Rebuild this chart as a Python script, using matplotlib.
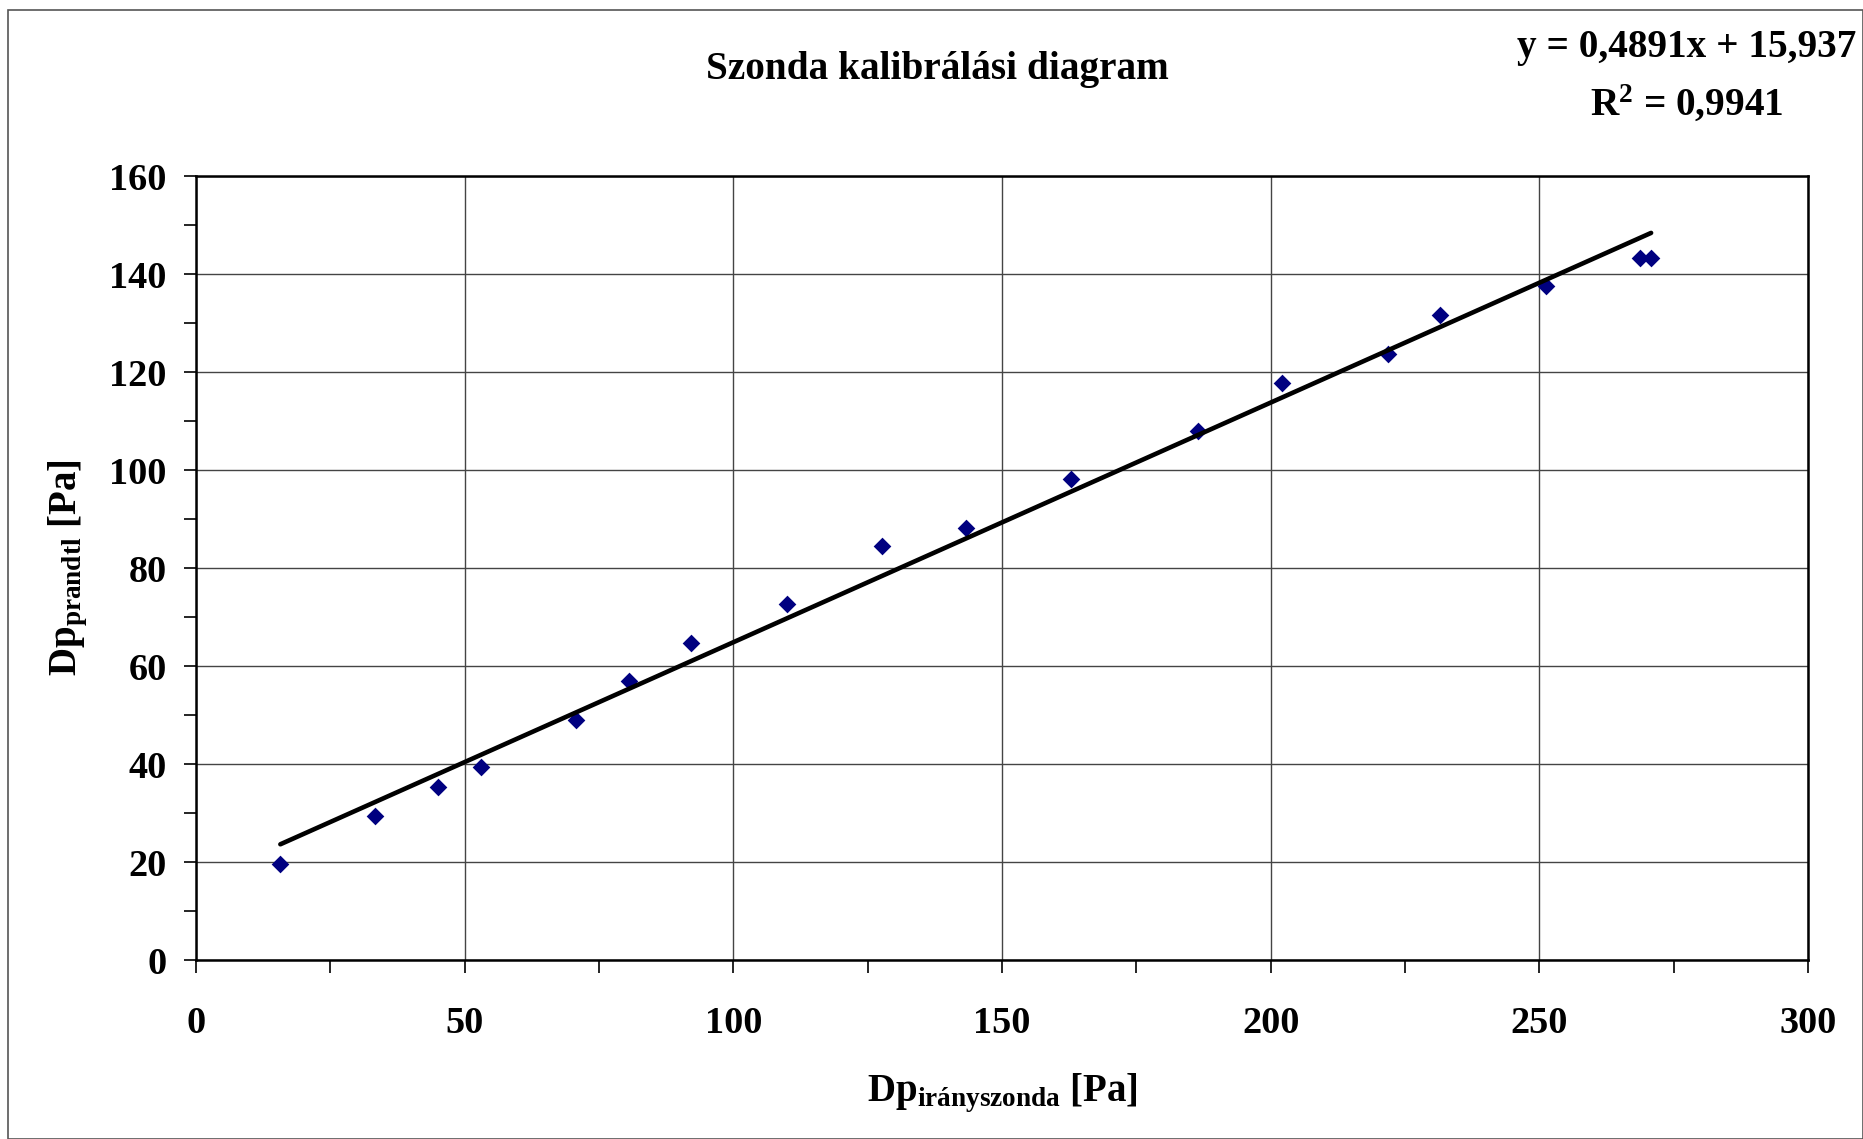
import matplotlib
matplotlib.use("Agg")
import matplotlib.pyplot as plt
from matplotlib.patches import Rectangle
from matplotlib.ticker import MultipleLocator
import numpy as np

plt.rcParams['font.family'] = ['Liberation Serif', 'DejaVu Serif']
plt.rcParams['mathtext.default'] = 'regular'

# Data
dp_iranyszonda = [15.7, 33.4, 45.1, 53.1, 70.7, 80.5, 92.2, 109.9, 127.6, 143.3,
                  162.9, 186.4, 202.1, 221.8, 231.5, 251.2, 268.8, 270.8]
dp_prandtl = [19.6, 29.3, 35.4, 39.3, 49.0, 57.0, 64.7, 72.7, 84.4, 88.2,
              98.2, 107.9, 117.8, 123.6, 131.6, 137.5, 143.3, 143.3]
slope = 0.4891
intercept = 15.937
title = "Szonda kalibrálási diagram"
eq_text = "y = 0,4891x + 15,937"
r2_text = "R$^{2}$ = 0,9941"
x_ticks = [0, 50, 100, 150, 200, 250, 300]
y_ticks = [0, 20, 40, 60, 80, 100, 120, 140, 160]

W, H = 1863, 1139
fig = plt.figure(figsize=(W / 100, H / 100), dpi=100)
fig.patch.set_facecolor('white')
ax = fig.add_axes([196 / W, 1 - 960 / H, (1808 - 196) / W, (960 - 176) / H])

ax.scatter(dp_iranyszonda, dp_prandtl, marker='D', s=9 ** 2, color='#000080',
           zorder=3, linewidths=0)
xs = np.array([min(dp_iranyszonda), max(dp_iranyszonda)])
ax.plot(xs, slope * xs + intercept, color='black', lw=3.3, solid_capstyle='round', zorder=4)

ax.set_xlim(0, 300)
ax.set_ylim(0, 160)
ax.set_xticks(x_ticks)
ax.set_yticks(y_ticks)
ax.xaxis.set_minor_locator(MultipleLocator(25))
ax.yaxis.set_minor_locator(MultipleLocator(10))
ax.grid(True, which='major', color='#444444', lw=1.0, zorder=1)
for s in ax.spines.values():
    s.set_linewidth(1.8)
    s.set_color('black')
ax.tick_params(which='both', direction='out', length=9, width=1.2, colors='black')
ax.tick_params(axis='x', which='major', pad=24, labelsize=27.5)
ax.tick_params(axis='y', which='major', pad=12, labelsize=27.5)
for lab in ax.get_xticklabels() + ax.get_yticklabels():
    lab.set_fontweight('bold')

ax.set_xlabel(r"Dp$_{\mathregular{irányszonda}}$ [Pa]", fontsize=28, fontweight='bold', labelpad=22)
ax.set_ylabel(r"Dp$_{\mathregular{prandtl}}$ [Pa]", fontsize=28, fontweight='bold', labelpad=14)

fig.text(937 / W, 1 - 69 / H, title, ha='center', va='center', fontsize=28.3, fontweight='bold')
fig.text(1687 / W, 1 - 48 / H, eq_text, ha='center', va='center', fontsize=28.3, fontweight='bold')
fig.text(1687 / W, 1 - 103 / H, r2_text, ha='center', va='center', fontsize=28.3, fontweight='bold')

fig.patches.append(Rectangle((8 / W, 0), 1 - 8 / W, 1 - 10 / H, transform=fig.transFigure,
                             fill=False, edgecolor='#555555', lw=1.2))

fig.savefig('out.png', dpi=100, facecolor='white')
